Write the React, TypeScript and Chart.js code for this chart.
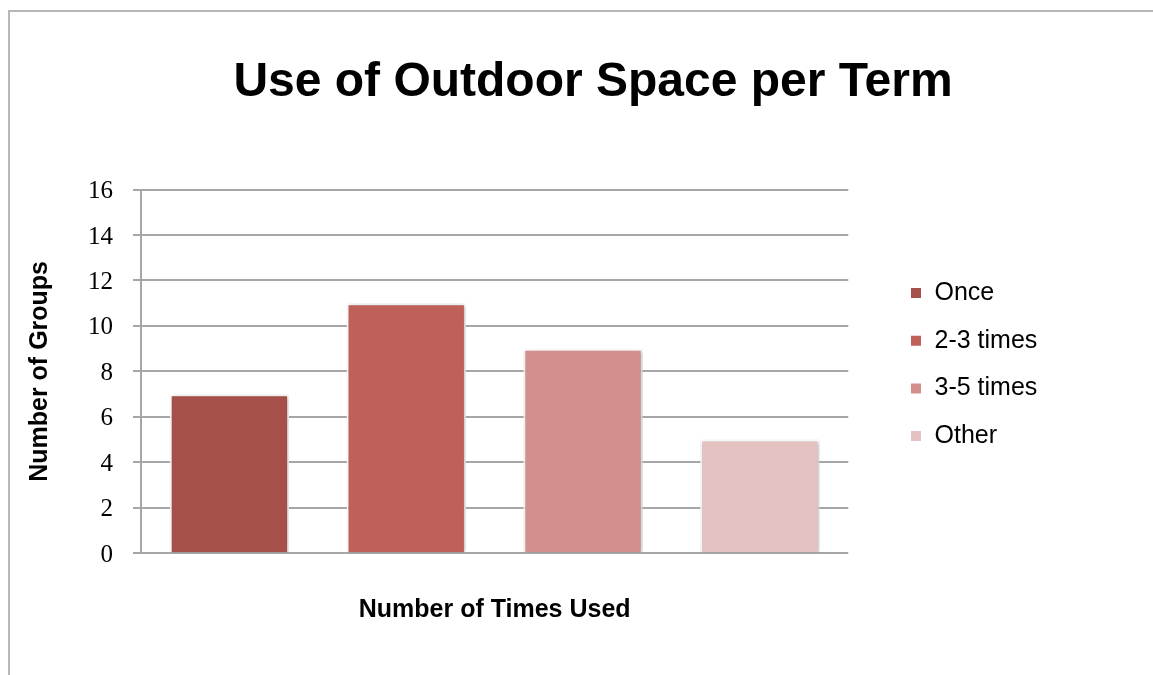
import React, { useEffect, useRef } from "react";
import { Chart, registerables } from "chart.js";

Chart.register(...registerables);

const chartTitle = "Use of Outdoor Space per Term";
const xAxisTitle = "Number of Times Used";
const yAxisTitle = "Number of Groups";
const categories = [""];
const seriesNames = ["Once", "2-3 times", "3-5 times", "Other"];
const groupCounts = [7, 11, 9, 5];
const seriesColors = ["#A5514A", "#C0605A", "#D48F8D", "#E4C2C1"];
const yMin = 0;
const yMax = 16;
const yStep = 2;

const shadowPlugin = {
  id: "barShadow",
  beforeDatasetsDraw(chart: any) {
    const ctx = chart.ctx;
    ctx.save();
    ctx.shadowColor = "rgba(0,0,0,0.28)";
    ctx.shadowBlur = 4;
    ctx.shadowOffsetX = 1;
    ctx.shadowOffsetY = 1;
  },
  afterDatasetsDraw(chart: any) {
    chart.ctx.restore();
  },
};

const spacerTitle = (bottom: number) => ({
  display: true,
  text: " ",
  color: "transparent",
  font: { size: 10 },
  padding: { top: 0, bottom },
});

export default function App() {
  const canvasRef = useRef<HTMLCanvasElement | null>(null);

  useEffect(() => {
    document.body.style.margin = "0";
    document.body.style.overflow = "hidden";
    const canvas = canvasRef.current;
    if (!canvas) return;
    const chart = new Chart(canvas, {
      type: "bar",
      data: {
        labels: categories,
        datasets: seriesNames.map((name, i) => ({
          label: name,
          data: [groupCounts[i]],
          backgroundColor: seriesColors[i],
          borderColor: "#ffffff",
          borderWidth: 2,
          categoryPercentage: 1.0,
          barPercentage: 0.675,
        })),
      },
      options: {
        animation: false,
        responsive: false,
        devicePixelRatio: 1,
        layout: { padding: { left: 33, right: 0, top: 0, bottom: 50.3 } },
        plugins: {
          title: {
            display: true,
            text: chartTitle,
            color: "#000",
            font: { family: "'Liberation Sans', Arial, sans-serif", size: 48, weight: "bold" },
            padding: { top: 54.2, bottom: 77.7 },
          },
          legend: {
            display: true,
            position: "right",
            align: "start",
            fullSize: false,
            maxWidth: 400,
            title: {
              display: true,
              text: " ",
              color: "transparent",
              font: { size: 10 },
              padding: { top: 0, bottom: 56.3 },
            },
            labels: {
              color: "#000",
              font: { family: "'Liberation Sans', Arial, sans-serif", size: 25 },
              boxWidth: 12,
              boxHeight: 12,
              padding: 22.7,
            },
          },
          tooltip: { enabled: false },
        },
        scales: {
          x: {
            type: "category",
            offset: true,
            grid: { display: false, drawTicks: false },
            border: { display: false },
            ticks: { display: false },
            title: {
              display: true,
              text: xAxisTitle,
              color: "#000",
              font: { family: "'Liberation Sans', Arial, sans-serif", size: 25, weight: "bold" },
              padding: { top: 41.4, bottom: 0 },
            },
          },
          y: {
            type: "linear",
            position: "left",
            min: yMin,
            max: yMax,
            ticks: {
              stepSize: yStep,
              color: "#000",
              padding: 20,
              labelOffset: 2,
              font: { family: "'Liberation Serif', 'Times New Roman', serif", size: 25 },
            },
            grid: {
              color: "#a6a6a6",
              lineWidth: 2,
              drawTicks: true,
              tickLength: 8,
              tickColor: "#a6a6a6",
            },
            border: { display: true, color: "#a6a6a6", width: 2 },
            title: {
              display: true,
              text: yAxisTitle,
              color: "#000",
              font: { family: "'Liberation Sans', Arial, sans-serif", size: 25, weight: "bold" },
              padding: { top: -8, bottom: 13 },
            },
          },
          gapRight: {
            type: "linear",
            position: "right",
            display: true,
            weight: 0,
            grid: { display: false, drawTicks: false },
            border: { display: false },
            ticks: { display: false },
            title: spacerTitle(27),
          },
          gapOuter: {
            type: "linear",
            position: "right",
            display: true,
            weight: 2000,
            grid: { display: false, drawTicks: false },
            border: { display: false },
            ticks: { display: false },
            title: spacerTitle(93.7),
          },
        },
      } as any,
      plugins: [shadowPlugin],
    });
    return () => chart.destroy();
  }, []);

  return (
    <div style={{ position: "relative", width: 1153, height: 675, overflow: "hidden", background: "#fff" }}>
      <canvas ref={canvasRef} width={1153} height={675} style={{ display: "block" }} />
      <div
        style={{
          position: "absolute",
          left: 8,
          top: 10,
          right: 0,
          bottom: 0,
          borderLeft: "2px solid #b8b8b8",
          borderTop: "2px solid #b8b8b8",
          pointerEvents: "none",
        }}
      />
    </div>
  );
}
